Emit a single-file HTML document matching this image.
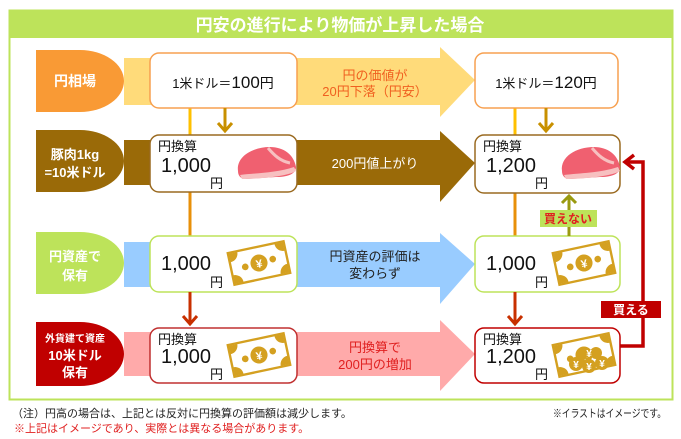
<!DOCTYPE html>
<html><head><meta charset="utf-8"><style>
html,body{margin:0;padding:0;background:#fff;width:681px;height:439px;overflow:hidden}
svg text{font-family:"Liberation Sans","Noto Sans CJK JP",sans-serif}
</style></head><body>
<svg width="681" height="439" viewBox="0 0 681 439" xmlns="http://www.w3.org/2000/svg">
<defs>
<clipPath id="billclip"><rect x="-29" y="-16" width="58" height="32"/></clipPath>
<g id="money">
 <g transform="rotate(-12) scale(0.95)">
  <rect x="-30" y="-17" width="60" height="34" fill="#fff"/>
  <g clip-path="url(#billclip)" fill="#d4a020">
   <circle cx="-29" cy="-16" r="9"/>
   <circle cx="29" cy="-16" r="9"/>
   <circle cx="-29" cy="16" r="9"/>
   <circle cx="29" cy="16" r="9"/>
  </g>
  <rect x="-30" y="-17" width="60" height="34" fill="none" stroke="#d4a020" stroke-width="2.5"/>
  <circle cx="0" cy="0" r="9" fill="#d4a020"/>
  <circle cx="-15" cy="1" r="3.5" fill="#d4a020"/>
  <circle cx="15" cy="-1" r="3.5" fill="#d4a020"/>
  <text x="0" y="5" font-size="12" fill="#fff" text-anchor="middle" font-weight="bold">¥</text>
 </g>
</g>
<g id="meat">
 <path d="M-28,8 C-30,-6 -14,-16 4,-16 C18,-16 28,-8 30,4 C30,10 24,14 10,14 L-20,16 C-26,16 -28,12 -28,8Z" fill="#f06070"/>
 <path d="M-26,12 C-10,10 10,10 28,4 L30,8 C20,14 -10,16 -24,16Z" fill="#f7c0c0"/>
 <path d="M2,-15 C8,-8 14,-2 24,0" stroke="#f7c0c0" stroke-width="3" fill="none"/>
</g>
</defs>

<rect x="9.5" y="10.5" width="663" height="389" fill="#fff" stroke="#bde35a" stroke-width="2"/>
<rect x="9" y="10" width="664" height="28" fill="#bde35a"/>
<text x="340" y="31" font-size="17" font-weight="bold" fill="#fff" text-anchor="middle">円安の進行により物価が上昇した場合</text>

<line x1="190" y1="108" x2="190" y2="236" stroke="#ffc000" stroke-width="3"/>
<line x1="190" y1="192" x2="190" y2="236" stroke="#e8900a" stroke-width="3"/>
<line x1="515" y1="108" x2="515" y2="236" stroke="#ffc000" stroke-width="3"/>
<line x1="515" y1="193" x2="515" y2="236" stroke="#e8900a" stroke-width="3"/>

<rect x="124" y="58" width="320" height="47" fill="#ffdb7a"/>
<polygon points="440,47 475,80 440,117" fill="#ffdb7a"/>
<path d="M36,50 H80 A44,31 0 0 1 80,112 H36Z" fill="#f99a35"/>
<text x="75" y="86" font-size="14" font-weight="bold" fill="#fff" text-anchor="middle">円相場</text>
<rect x="150" y="53" width="147" height="55" rx="9" fill="#fff" stroke="#f7a050" stroke-width="1.5"/>
<text x="223" y="88" text-anchor="middle" fill="#111"><tspan font-size="13">1米ドル＝</tspan><tspan font-size="17">100</tspan><tspan font-size="14">円</tspan></text>
<text x="375" y="80" font-size="13" fill="#f06020" text-anchor="middle">円の価値が</text>
<text x="375" y="96" font-size="13" fill="#f06020" text-anchor="middle">20円下落（円安）</text>
<rect x="475" y="53" width="143" height="55" rx="9" fill="#fff" stroke="#f7a050" stroke-width="1.5"/>
<text x="546" y="88" text-anchor="middle" fill="#111"><tspan font-size="13">1米ドル＝</tspan><tspan font-size="17">120</tspan><tspan font-size="14">円</tspan></text>

<g stroke="#c89000" stroke-width="3" fill="none">
 <line x1="225" y1="108" x2="225" y2="131"/><polyline points="218,123 225,131 232,123"/>
 <line x1="546" y1="108" x2="546" y2="131"/><polyline points="539,123 546,131 553,123"/>
</g>

<rect x="124" y="140" width="320" height="45" fill="#9a6a08"/>
<polygon points="440,131 475,163 440,202" fill="#9a6a08"/>
<path d="M36,130 H80 A44,31 0 0 1 80,192 H36Z" fill="#9a6a08"/>
<text x="75" y="159" font-size="13" font-weight="bold" fill="#fff" text-anchor="middle">豚肉1kg</text>
<text x="75" y="177" font-size="13" font-weight="bold" fill="#fff" text-anchor="middle">=10米ドル</text>
<rect x="150" y="135" width="147" height="57" rx="9" fill="#fff" stroke="#9a6a20" stroke-width="1.5"/>
<text x="158" y="151" font-size="13" fill="#111">円換算</text>
<text x="161" y="172" font-size="20" fill="#111">1,000</text>
<text x="210" y="188" font-size="13" fill="#111">円</text>
<use href="#meat" x="266" y="163"/>
<text x="375" y="168" font-size="13" fill="#fff" text-anchor="middle">200円値上がり</text>
<rect x="475" y="135" width="145" height="58" rx="9" fill="#fff" stroke="#9a6a20" stroke-width="1.5"/>
<text x="483" y="151" font-size="13" fill="#111">円換算</text>
<text x="486" y="172" font-size="20" fill="#111">1,200</text>
<text x="535" y="188" font-size="13" fill="#111">円</text>
<use href="#meat" x="590" y="163"/>

<rect x="124" y="242" width="320" height="45" fill="#99ccff"/>
<polygon points="440,233 475,264 440,304" fill="#99ccff"/>
<path d="M36,232 H80 A44,31 0 0 1 80,294 H36Z" fill="#bde35a"/>
<text x="75" y="261" font-size="13" font-weight="bold" fill="#fff" text-anchor="middle">円資産で</text>
<text x="75" y="280" font-size="13" font-weight="bold" fill="#fff" text-anchor="middle">保有</text>
<rect x="150" y="236" width="147" height="56" rx="9" fill="#fff" stroke="#bde35a" stroke-width="1.5"/>
<text x="161" y="270" font-size="20" fill="#111">1,000</text>
<text x="210" y="287" font-size="13" fill="#111">円</text>
<use href="#money" x="259" y="263"/>
<text x="375" y="261" font-size="13" fill="#222" text-anchor="middle">円資産の評価は</text>
<text x="375" y="278" font-size="13" fill="#222" text-anchor="middle">変わらず</text>
<rect x="475" y="236" width="145" height="56" rx="9" fill="#fff" stroke="#bde35a" stroke-width="1.5"/>
<text x="486" y="270" font-size="20" fill="#111">1,000</text>
<text x="535" y="287" font-size="13" fill="#111">円</text>
<use href="#money" x="584" y="263"/>

<g stroke="#9a9a10" stroke-width="3" fill="none">
 <line x1="569" y1="236" x2="569" y2="196"/><polyline points="562,203 569,196 576,203"/>
</g>
<rect x="540" y="210" width="57" height="17" fill="#bde35a"/>
<text x="568" y="223" font-size="12" fill="#e02020" text-anchor="middle" font-weight="bold">買えない</text>

<g stroke="#c83000" stroke-width="3" fill="none">
 <line x1="190" y1="292" x2="190" y2="324"/><polyline points="183,316 190,324 197,316"/>
 <line x1="515" y1="292" x2="515" y2="324"/><polyline points="508,316 515,324 522,316"/>
</g>

<rect x="124" y="332" width="320" height="44" fill="#ffaaaa"/>
<polygon points="440,320 475,354 440,391" fill="#ffaaaa"/>
<path d="M36,322 H80 A44,32 0 0 1 80,386 H36Z" fill="#c00000"/>
<text x="75" y="342" font-size="10" font-weight="bold" fill="#fff" text-anchor="middle">外貨建て資産</text>
<text x="75" y="360" font-size="13" font-weight="bold" fill="#fff" text-anchor="middle">10米ドル</text>
<text x="75" y="377" font-size="13" font-weight="bold" fill="#fff" text-anchor="middle">保有</text>
<rect x="150" y="328" width="147" height="55" rx="9" fill="#fff" stroke="#c03030" stroke-width="1.5"/>
<text x="158" y="344" font-size="13" fill="#111">円換算</text>
<text x="161" y="363" font-size="20" fill="#111">1,000</text>
<text x="210" y="379" font-size="13" fill="#111">円</text>
<use href="#money" x="259" y="355"/>
<text x="375" y="352" font-size="13" fill="#e02020" text-anchor="middle">円換算で</text>
<text x="375" y="369" font-size="13" fill="#e02020" text-anchor="middle">200円の増加</text>
<rect x="475" y="328" width="145" height="55" rx="9" fill="#fff" stroke="#c00000" stroke-width="1.5"/>
<text x="483" y="344" font-size="13" fill="#111">円換算</text>
<text x="486" y="363" font-size="20" fill="#111">1,200</text>
<text x="535" y="379" font-size="13" fill="#111">円</text>
<use href="#money" x="584" y="355"/>
<g fill="#d4a020"><circle cx="576" cy="364" r="7"/><circle cx="589" cy="366" r="7"/><circle cx="602" cy="363" r="7"/><circle cx="582" cy="354" r="6"/><circle cx="596" cy="353" r="6"/></g>
<g font-size="10" fill="#fff" font-weight="bold" text-anchor="middle"><text x="576" y="368">¥</text><text x="589" y="370">¥</text><text x="602" y="367">¥</text><text x="589" y="357">¥</text></g>

<polyline points="620,346 643,346 643,162 626,162" stroke="#c00000" stroke-width="3.5" fill="none"/>
<polyline points="634,155 625,162 634,169" stroke="#c00000" stroke-width="3.5" fill="none"/>
<rect x="601" y="301" width="60" height="17" fill="#c00000"/>
<text x="631" y="314" font-size="12" font-weight="bold" fill="#fff" text-anchor="middle">買える</text>

<text x="12" y="417" font-size="11" fill="#222">（注）円高の場合は、上記とは反対に円換算の評価額は減少します。</text>
<text x="14" y="432" font-size="11" fill="#e02020">※上記はイメージであり、実際とは異なる場合があります。</text>
<text x="666" y="417" font-size="11" fill="#222" text-anchor="end" textLength="113" lengthAdjust="spacingAndGlyphs">※イラストはイメージです。</text>
</svg>
</body></html>
